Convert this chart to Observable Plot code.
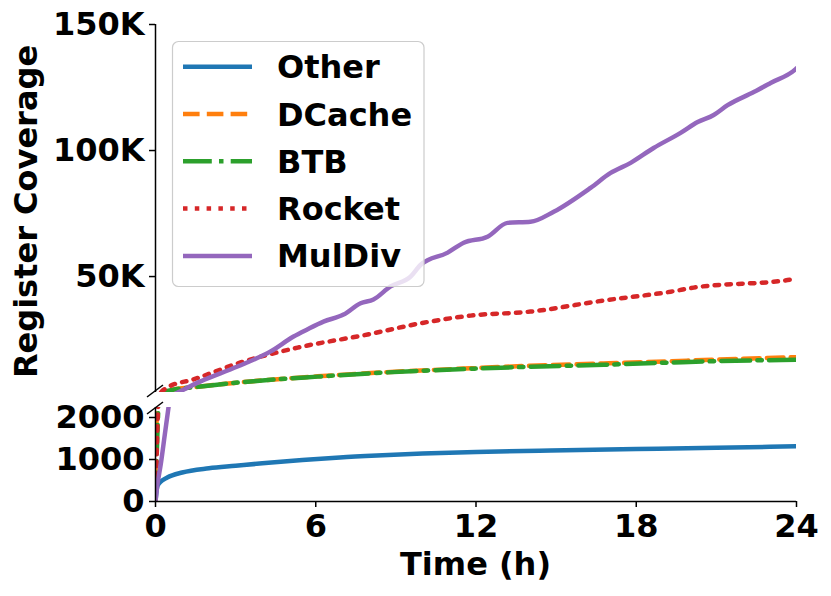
<!DOCTYPE html>
<html><head><meta charset="utf-8">
<script src="https://cdn.jsdelivr.net/npm/d3@7"></script>
<script src="https://cdn.jsdelivr.net/npm/@observablehq/plot@0.6"></script>
<style>
html,body{margin:0;padding:0;background:#fff;}
#chart{position:relative;width:831px;height:596px;font-family:"DejaVu Sans",sans-serif;font-weight:bold;}
#chart svg{position:absolute;left:0;top:0;overflow:visible;background:transparent;}
</style></head><body><div id="chart"></div>
<script>
// ---- data ----
const seriesNames = ["Other", "DCache", "BTB", "Rocket", "MulDiv"];

const otherTime = [0, 0.03, 0.08, 0.16, 0.44, 1.0, 2.0, 3.0, 4.0, 5.5, 6.9, 8.5, 10, 12, 14.8, 18, 21, 24];
const otherCov  = [0, 200, 380, 450, 570, 690, 790, 850, 910, 990, 1050, 1100, 1140, 1180, 1215, 1250, 1280, 1315];

const dcacheTime = [0, 0.03, 0.06, 0.45, 1.69, 3.56, 6.07, 8.54, 11.8, 14.0, 16.78, 19.3, 20.52, 24];
const dcacheCov  = [0, 1500, 2400, 4600, 6400, 8400, 10400, 12000, 13600, 14600, 15500, 16400, 16900, 18000];

const btbTime = [0, 0.05, 0.12, 0.45, 1.69, 3.56, 6.07, 8.54, 11.8, 14.0, 16.78, 19.3, 20.52, 24];
const btbCov  = [0, 1200, 2400, 4600, 6400, 8400, 10300, 11900, 13400, 14200, 15000, 15900, 16300, 17000];

const rocketTime = [0, 0.04, 0.1, 0.45, 1.42, 3.18, 5.32, 7.94, 10.04, 11.8, 14.04, 16.78, 19.29, 20.15, 23.78, 24];
const rocketCov  = [0, 1000, 2400, 6000, 9200, 15900, 21800, 27000, 31700, 34500, 36100, 40500, 44000, 45600, 48800, 49300];

const muldivTime = [0, 0.05, 0.2, 0.35, 0.5, 1.69, 3.07, 4.31, 5.17, 5.68, 6.29, 7.04, 7.68, 8.16, 8.8, 9.55, 9.93, 10.94, 11.54, 12.43, 13.18, 14.04, 14.91, 16.29, 17.04, 17.79, 18.65, 19.66, 20.3, 20.9, 21.42, 22.4, 23.03, 23.97, 24];
const muldivCov  = [0, 300, 900, 1600, 2300, 8400, 14300, 20300, 26200, 29000, 32100, 34900, 39400, 40900, 46100, 50000, 54700, 59500, 63400, 65800, 71300, 71700, 75700, 85200, 91100, 95100, 101000, 107000, 111300, 114100, 118000, 123200, 126800, 132300, 132600];

const xTicks = [0, 6, 12, 18, 24];
const yTicksTop = [50000, 100000, 150000];
const yTicksBottom = [0, 1000, 2000];

// ---- styles ----
const styleOf = {
  Other:  {stroke: "#1f77b4", dash: null},
  DCache: {stroke: "#ff7f0e", dash: "16.6,7.2"},
  BTB:    {stroke: "#2ca02c", dash: "28.8,7.2,4.5,7.2"},
  Rocket: {stroke: "#d62728", dash: "4.5,7.3"},
  MulDiv: {stroke: "#9467bd", dash: null}
};

const zip = (ts, vs) => ts.map((t, i) => ({t, v: vs[i]}));
const rows = {
  Other: zip(otherTime, otherCov),
  DCache: zip(dcacheTime, dcacheCov),
  BTB: zip(btbTime, btbCov),
  Rocket: zip(rocketTime, rocketCov),
  MulDiv: zip(muldivTime, muldivCov)
};

const W = 831, H = 596;
const topBottom = 392, botTop = 407, botBottom = 501;
const LW = 4.5;

function lineMarks() {
  return seriesNames.map(name => Plot.line(rows[name], {
    x: "t", y: "v", stroke: styleOf[name].stroke, strokeWidth: LW,
    strokeDasharray: styleOf[name].dash || undefined,
    strokeLinejoin: "round", curve: "monotone-x", clip: true
  }));
}
const baseStyle = {fontFamily: "DejaVu Sans", fontWeight: "bold", fontSize: "32px", background: "transparent", overflow: "visible", color: "black"};

const topPlot = Plot.plot({
  width: W, height: H, marginLeft: 155, marginRight: 35, marginTop: 24, marginBottom: H - topBottom,
  style: baseStyle,
  x: {domain: [0, 24], axis: null},
  y: {domain: [4000, 150000], axis: null},
  marks: [
    ...lineMarks(),
    Plot.ruleX([0], {stroke: "black", strokeWidth: 1.5}),
    Plot.axisY({ticks: yTicksTop, tickFormat: d => d / 1000 + "K", tickSize: 6, tickPadding: 5, strokeWidth: 1.5, label: null, fontWeight: "bold", fontSize: 32})
  ]
});

const botPlot = Plot.plot({
  width: W, height: H, marginLeft: 155, marginRight: 35, marginTop: botTop, marginBottom: H - botBottom,
  style: baseStyle,
  x: {domain: [0, 24], axis: null},
  y: {domain: [0, 2238], axis: null},
  marks: [
    ...lineMarks(),
    Plot.ruleX([0], {stroke: "black", strokeWidth: 1.5}),
    Plot.ruleY([0], {stroke: "black", strokeWidth: 1.5}),
    Plot.axisY({ticks: yTicksBottom, tickFormat: d => String(d), tickSize: 6, tickPadding: 5, strokeWidth: 1.5, label: null, fontWeight: "bold", fontSize: 32}),
    Plot.axisX({ticks: xTicks, tickFormat: d => String(d), tickSize: 6, tickPadding: 7, strokeWidth: 1.5, label: null, fontWeight: "bold", fontSize: 32})
  ]
});

const chart = document.getElementById("chart");
chart.appendChild(botPlot);
chart.appendChild(topPlot);

// ---- overlay: break marks, axis titles, legend ----
const sx = topPlot.scale("x");
const syTop = topPlot.scale("y");
const syBot = botPlot.scale("y");
const ov = d3.select(chart).append("svg").attr("width", W).attr("height", H)
  .style("font-family", "DejaVu Sans").style("font-weight", "bold");

const x0 = sx.apply(0);
[[x0, syTop.apply(4000) - 1], [x0, syBot.apply(2238) + 1]].forEach(([cx, cy]) => {
  ov.append("line").attr("x1", cx - 8).attr("y1", cy + 6).attr("x2", cx + 8).attr("y2", cy - 6)
    .attr("stroke", "black").attr("stroke-width", 1.5);
});

ov.append("text").attr("transform", `translate(37,${(45 + 378) / 2}) rotate(-90)`)
  .attr("text-anchor", "middle").attr("font-size", 32).text("Register Coverage");
ov.append("text").attr("x", (sx.apply(0) + sx.apply(24)) / 2).attr("y", 575)
  .attr("text-anchor", "middle").attr("font-size", 32).text("Time (h)");

const lg = ov.append("g");
lg.append("rect").attr("x", 172.5).attr("y", 41.5).attr("width", 251.5).attr("height", 245)
  .attr("rx", 6).attr("fill", "rgba(255,255,255,0.8)").attr("stroke", "#cccccc").attr("stroke-width", 1.2);
seriesNames.forEach((name, i) => {
  const cy = 66.7 + i * 47.3;
  lg.append("line").attr("x1", 183).attr("x2", 252).attr("y1", cy).attr("y2", cy)
    .attr("stroke", styleOf[name].stroke).attr("stroke-width", LW)
    .attr("stroke-dasharray", styleOf[name].dash);
  lg.append("text").attr("x", 277).attr("y", cy + 11.5).attr("font-size", 32).text(name);
});
</script></body></html>
